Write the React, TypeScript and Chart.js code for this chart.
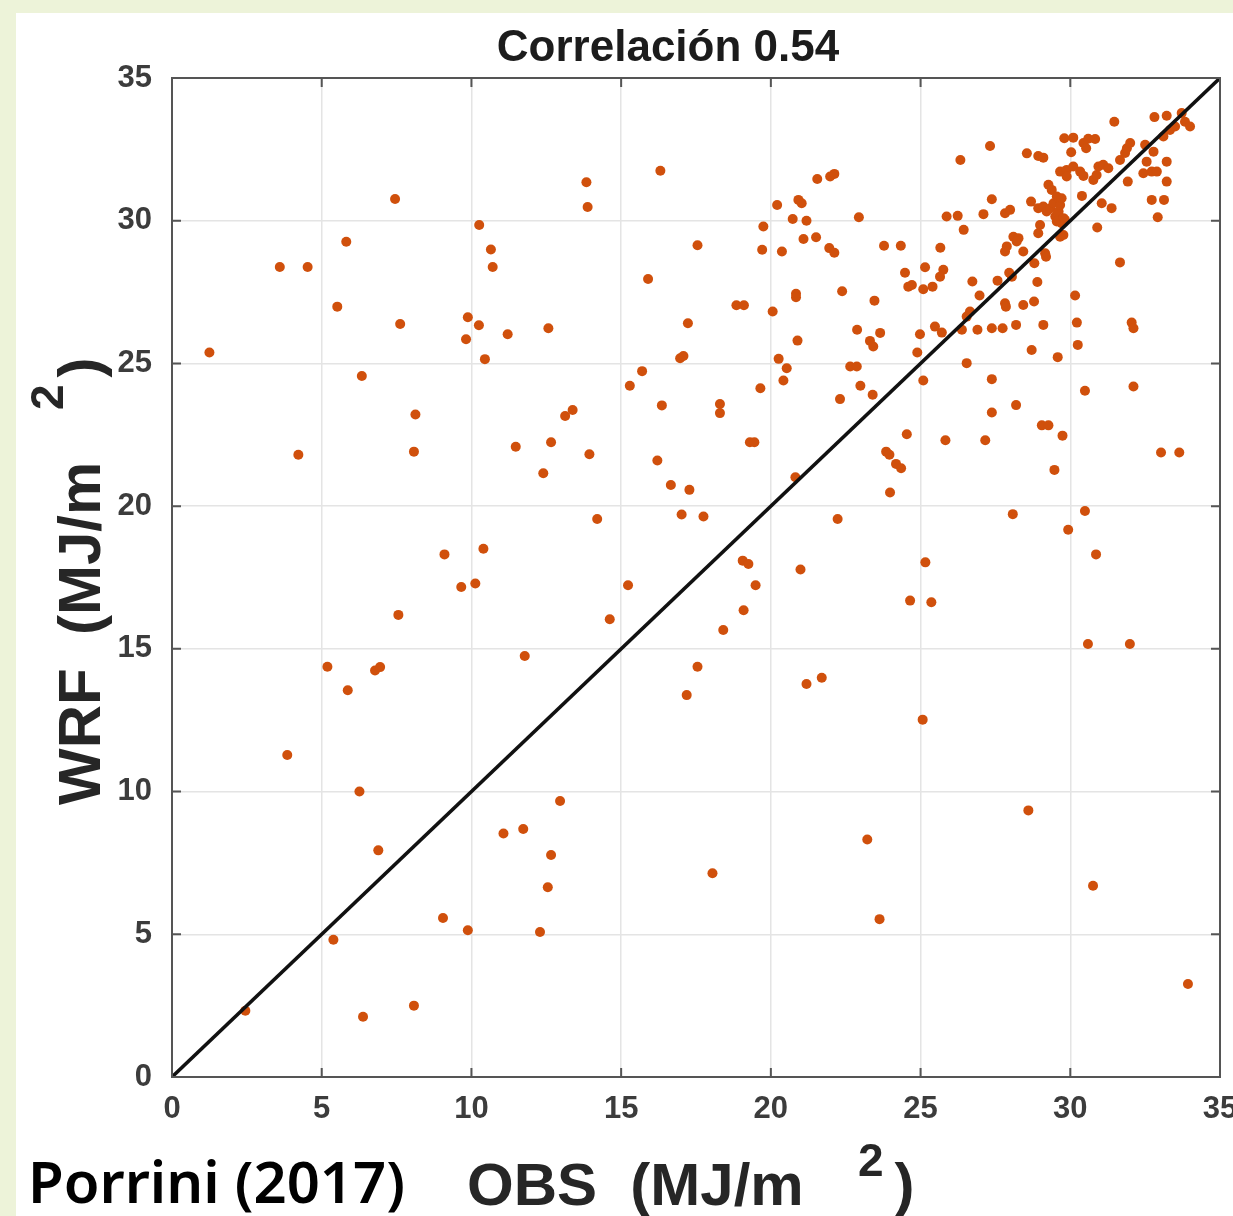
import React, { useEffect, useRef } from "react";
import { Chart, registerables } from "chart.js";

Chart.register(...registerables);

// Observed global radiation (x) and WRF-modelled radiation (y), MJ/m2
const OBS = [
  1.25, 2.45, 3.6, 4.53, 3.85, 4.22, 5.19, 5.39, 5.52, 5.82,
  5.87, 6.34, 6.26, 6.38, 6.78, 6.95, 6.89, 7.45, 7.62, 7.56,
  8.13, 8.08, 8.08, 9.1, 9.05, 9.66, 9.82, 9.88, 9.88, 10.13,
  10.26, 10.25, 10.4, 10.45, 10.65, 10.71, 11.07, 11.21, 11.48, 11.73,
  11.78, 12.4, 12.57, 12.66, 12.66, 12.55, 12.96, 12.29, 13.13, 13.38,
  13.84, 13.88, 13.94, 14.2, 14.62, 15.23, 15.29, 15.7, 15.9, 16.21,
  16.31, 16.36, 16.66, 16.97, 17.08, 17.02, 17.23, 17.28, 17.19, 17.55,
  17.55, 17.75, 18.05, 18.3, 18.3, 18.41, 18.85, 19.1, 19.06, 19.25,
  19.09, 19.3, 19.45, 19.49, 19.65, 19.75, 19.71, 20.21, 20.37, 20.06,
  20.26, 20.53, 20.42, 20.73, 20.92, 21.03, 21.19, 21.09, 21.51, 20.84,
  20.84, 20.89, 20.82, 20.99, 21.19, 21.7, 21.55, 21.98, 22.12, 21.95,
  22.12, 22.38, 22.23, 22.31, 22.65, 22.87, 22.88, 22.94, 22.99, 23.31,
  23.42, 23.46, 23.4, 23.65, 23.22, 23.63, 23.78, 24.34, 23.85, 23.96,
  24.18, 24.35, 23.98, 24.48, 24.59, 24.71, 24.54, 24.65, 24.89, 24.98,
  25.09, 25.07, 25.15, 25.09, 25.16, 25.36, 25.4, 25.48, 25.71, 25.66,
  25.76, 25.65, 25.83, 25.87, 26.24, 26.33, 26.44, 26.38, 26.54, 26.65,
  26.54, 26.73, 26.9, 26.97, 27.1, 27.16, 27.32, 27.38, 27.38, 27.38,
  27.38, 27.57, 27.74, 27.82, 27.99, 27.82, 27.85, 27.88, 27.82, 27.96,
  28.05, 28.08, 28.1, 28.27, 28.21, 28.19, 28.19, 28.43, 28.43, 28.55,
  28.6, 28.69, 28.71, 28.79, 28.8, 28.9, 28.93, 28.93, 28.99, 28.93,
  29.05, 29.1, 29.1, 29.1, 29.16, 29.19, 29.21, 29.27, 29.27, 29.33,
  29.38, 29.44, 29.47, 29.5, 29.55, 29.55, 29.58, 29.61, 29.66, 29.66,
  29.66, 29.71, 29.71, 29.74, 29.77, 29.77, 29.8, 29.82, 29.88, 29.88,
  29.93, 30.03, 30.1, 30.1, 30.16, 30.22, 30.25, 30.33, 30.39, 30.44,
  30.44, 30.49, 30.49, 30.53, 30.59, 30.6, 30.76, 30.77, 30.83, 30.86,
  30.88, 30.9, 30.94, 31.05, 31.1, 31.27, 31.38, 31.47, 31.66, 31.66,
  31.83, 31.89, 31.92, 31.99, 32.0, 32.05, 32.11, 32.11, 32.44, 32.5,
  32.55, 32.72, 32.72, 32.78, 32.81, 32.89, 32.92, 33.03, 33.11, 33.13,
  33.22, 33.22, 33.22, 33.33, 33.5, 33.64, 33.72, 33.83, 33.93, 34.0,
];

const WRF = [
  25.38, 2.32, 28.38, 28.38, 11.28, 21.8, 14.37, 4.81, 26.99, 29.26,
  13.55, 24.56, 10.0, 2.11, 14.24, 14.36, 7.94, 30.76, 26.38, 16.19,
  23.21, 21.91, 2.5, 18.31, 5.57, 17.17, 25.85, 26.62, 5.14, 17.29,
  29.85, 26.34, 18.51, 25.15, 28.99, 28.38, 8.53, 26.02, 22.08, 8.69,
  14.75, 21.15, 26.23, 22.24, 7.78, 6.65, 9.67, 5.08, 23.16, 23.37,
  31.35, 30.48, 21.82, 19.55, 16.04, 17.23, 24.22, 24.73, 27.96, 21.6,
  31.75, 23.53, 20.74, 25.18, 25.26, 19.71, 26.41, 20.57, 13.38, 29.14,
  14.37, 19.64, 7.14, 23.58, 23.26, 15.66, 27.04, 27.04, 18.09, 17.97,
  16.35, 22.24, 22.24, 17.23, 24.13, 29.8, 28.98, 30.55, 28.92, 26.82,
  25.16, 24.83, 24.4, 30.06, 30.73, 30.61, 30.0, 29.36, 29.42, 27.44,
  27.32, 25.8, 21.01, 17.78, 13.77, 13.99, 31.46, 31.55, 31.64, 29.04,
  28.88, 27.53, 19.55, 23.75, 24.89, 24.89, 26.18, 30.12, 24.22, 25.79,
  25.59, 27.2, 23.9, 26.07, 8.32, 5.53, 29.12, 29.12, 21.91, 21.8,
  21.48, 21.33, 20.48, 28.18, 27.69, 27.75, 22.52, 16.69, 25.38, 26.02,
  24.4, 12.52, 28.37, 27.6, 18.03, 16.63, 27.69, 26.29, 26.08, 29.05,
  28.28, 28.04, 22.31, 30.15, 30.17, 32.13, 29.68, 26.18, 25.01, 26.82,
  26.64, 27.87, 26.18, 27.38, 30.23, 22.31, 32.62, 30.75, 26.23, 24.45,
  23.28, 27.9, 26.23, 30.26, 30.38, 27.11, 26.99, 29.1, 28.92, 28.18,
  28.04, 19.72, 29.44, 29.39, 29.27, 26.35, 23.54, 28.92, 27.05, 32.36,
  9.34, 30.67, 25.47, 27.17, 28.51, 27.85, 32.27, 30.44, 29.85, 29.56,
  22.83, 32.21, 30.5, 26.35, 28.86, 28.74, 30.32, 31.26, 22.83, 30.43,
  31.08, 30.61, 21.27, 30.15, 30.85, 29.97, 25.22, 30.32, 31.72, 30.55,
  29.44, 30.79, 29.91, 22.47, 30.09, 29.5, 32.89, 30.03, 31.78, 31.55,
  19.17, 32.4, 32.91, 31.9, 27.38, 26.43, 25.65, 31.72, 30.87, 32.72,
  31.57, 24.04, 19.83, 32.54, 15.17, 32.87, 6.7, 31.43, 32.86, 18.31,
  31.6, 29.76, 31.9, 30.61, 31.96, 31.84, 30.44, 33.47, 32.13, 28.54,
  32.37, 32.54, 31.37, 15.17, 32.72, 26.43, 26.23, 24.19, 31.66, 32.66,
  32.07, 31.72, 30.73, 32.42, 33.63, 31.72, 30.12, 21.88, 32.95, 30.73,
  33.68, 32.07, 31.37, 33.18, 33.3, 21.88, 33.77, 33.47, 3.26, 33.3,
];

// 1:1 reference line
const DIAG_X = [0, 35];
const DIAG_Y = [0, 35];

const TICK_VALUES = [0, 5, 10, 15, 20, 25, 30, 35];

const TITLE = "Correlación 0.54";
const X_TITLE = "OBS  (MJ/m";
const Y_TITLE = "WRF  (MJ/m";
const UNIT_EXP = "2";
const UNIT_CLOSE = ")";
const SOURCE = "Porrini (2017)";

const FONT = '"Liberation Sans", Arial, Helvetica, sans-serif';

const decorPlugin = {
  id: "decor",
  afterDraw(chart: any) {
    const { ctx, chartArea: a, scales } = chart;
    const xs = scales.x;
    const ys = scales.y;
    ctx.save();
    // inward tick marks and box
    ctx.strokeStyle = "#555555";
    ctx.lineWidth = 2;
    ctx.beginPath();
    for (const v of TICK_VALUES) {
      if (v === TICK_VALUES[0] || v === TICK_VALUES[TICK_VALUES.length - 1]) continue;
      const px = xs.getPixelForValue(v);
      ctx.moveTo(px, a.bottom);
      ctx.lineTo(px, a.bottom - 9);
      ctx.moveTo(px, a.top);
      ctx.lineTo(px, a.top + 9);
      const py = ys.getPixelForValue(v);
      ctx.moveTo(a.left, py);
      ctx.lineTo(a.left + 9, py);
      ctx.moveTo(a.right, py);
      ctx.lineTo(a.right - 9, py);
    }
    ctx.stroke();
    ctx.strokeRect(a.left, a.top, a.right - a.left, a.bottom - a.top);

    const cx = (a.left + a.right) / 2;
    const cy = (a.top + a.bottom) / 2;

    // title
    ctx.fillStyle = "#1c1c1c";
    ctx.font = `bold 44px ${FONT}`;
    ctx.textAlign = "center";
    ctx.textBaseline = "alphabetic";
    ctx.fillText(TITLE, cx - 28, 61);

    // x axis title
    ctx.textAlign = "left";
    ctx.fillStyle = "#262626";
    const x0 = cx - 229;
    ctx.font = `bold 60px ${FONT}`;
    ctx.fillText(X_TITLE, x0, 1205);
    ctx.font = `bold 46px ${FONT}`;
    ctx.fillText(UNIT_EXP, x0 + 391, 1176);
    const w2 = ctx.measureText(UNIT_EXP).width;
    ctx.font = `bold 60px ${FONT}`;
    ctx.fillText(UNIT_CLOSE, x0 + 391 + w2 + 11, 1205);

    // y axis title (rotated)
    ctx.save();
    ctx.translate(100, cy + 227.5);
    ctx.rotate(-Math.PI / 2);
    ctx.font = `bold 60px ${FONT}`;
    ctx.fillText(Y_TITLE, 0, 0);
    ctx.font = `bold 46px ${FONT}`;
    ctx.fillText(UNIT_EXP, 395, -37);
    const w3 = ctx.measureText(UNIT_EXP).width;
    ctx.font = `bold 60px ${FONT}`;
    ctx.fillText(UNIT_CLOSE, 391 + w3 + 11, 0);
    ctx.restore();

    // source
    ctx.fillStyle = "#000000";
    ctx.font = `600 58px "Noto Sans", "Open Sans", sans-serif`;
    ctx.fillText(SOURCE, 28, 1203);
    ctx.restore();
  },
};

export default function App() {
  const ref = useRef<HTMLCanvasElement>(null);
  useEffect(() => {
    if (!ref.current) return;
    const chart = new Chart(ref.current, {
      type: "scatter",
      data: {
        datasets: [
          {
            label: "1:1",
            data: DIAG_X.map((x, i) => ({ x, y: DIAG_Y[i] })),
            showLine: true,
            borderColor: "#111111",
            borderWidth: 3.5,
            pointRadius: 0,
            fill: false,
          },
          {
            label: "WRF vs OBS",
            data: OBS.map((x, i) => ({ x, y: WRF[i] })),
            backgroundColor: "#d0500c",
            borderWidth: 0,
            pointRadius: 5,
          },
        ],
      },
      options: {
        responsive: false,
        devicePixelRatio: 1,
        animation: false,
        events: [],
        layout: { padding: { top: 78, right: 13, left: 0, bottom: 0 } },
        plugins: {
          legend: { display: false },
          tooltip: { enabled: false },
          title: { display: false },
        },
        scales: {
          x: {
            type: "linear",
            min: 0,
            max: 35,
            afterBuildTicks: (s: any) => {
              s.ticks = TICK_VALUES.map((v) => ({ value: v }));
            },
            ticks: {
              color: "#3c3c3c",
              padding: 14,
              maxRotation: 0,
              font: { family: FONT, size: 31, weight: "bold" },
            },
            grid: { color: "#e4e4e4", lineWidth: 1.5, drawTicks: false },
            border: { display: false },
            afterFit: (s: any) => {
              s.height = 139;
              s.paddingLeft = 0;
              s.paddingRight = 0;
            },
          },
          y: {
            type: "linear",
            min: 0,
            max: 35,
            afterBuildTicks: (s: any) => {
              s.ticks = TICK_VALUES.map((v) => ({ value: v }));
            },
            ticks: {
              color: "#3c3c3c",
              padding: 20,
              font: { family: FONT, size: 31, weight: "bold" },
            },
            grid: { color: "#e4e4e4", lineWidth: 1.5, drawTicks: false },
            border: { display: false },
            afterFit: (s: any) => {
              s.width = 172;
              s.paddingTop = 0;
              s.paddingBottom = 0;
            },
          },
        },
      },
      plugins: [decorPlugin],
    } as any);
    return () => chart.destroy();
  }, []);

  return (
    <div
      style={{
        position: "absolute",
        left: 0,
        top: 0,
        width: 1233,
        height: 1216,
        background: "#edf3d9",
        overflow: "hidden",
      }}
    >
      <div
        style={{
          position: "absolute",
          left: 16,
          top: 13,
          right: 0,
          bottom: 0,
          background: "#ffffff",
        }}
      />
      <canvas
        ref={ref}
        width={1233}
        height={1216}
        style={{ position: "absolute", left: 0, top: 0, width: 1233, height: 1216 }}
      />
    </div>
  );
}
